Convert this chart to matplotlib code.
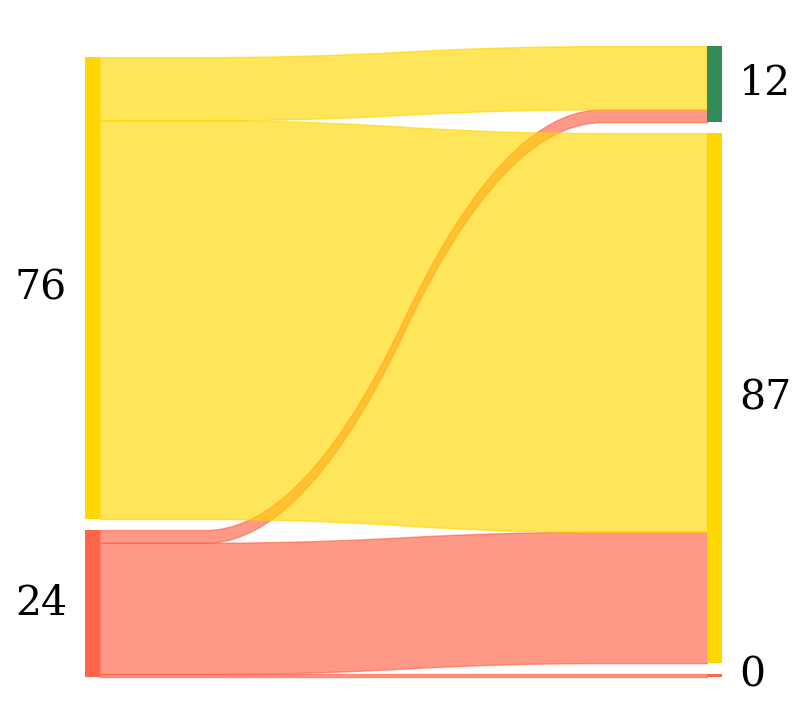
import numpy as np
import matplotlib
matplotlib.use("Agg")
import matplotlib.pyplot as plt

# ---- data ----
left_nodes = ["24", "76"]            # bottom -> top
right_nodes = ["0", "87", "12"]      # bottom -> top
left_colors = ["#FF6347", "#FFD700"]
right_colors = ["#FF6347", "#FFD700", "#2E8B57"]
# flow values [left][right]
flows = [
    [0.5, 21.6, 2.1],   # from 24
    [0.0, 65.6, 10.4],  # from 76
]

flows = np.array(flows)
left_tot = flows.sum(axis=1)
right_tot = flows.sum(axis=0)
total = flows.sum()
gap = 0.018 * total

fig = plt.figure(figsize=(8.06, 7.23), dpi=100)
ax = fig.add_axes([0, 0, 1, 1])
ax.axis("off")

xmax = 100.0
nw = 0.0247 * xmax

# node bottoms
lb, b = [], 0.0
for v in left_tot:
    lb.append(b)
    b += v + gap
rb, b = [], 0.0
for v in right_tot:
    rb.append(b)
    b += v + gap

# flows
lcur = list(lb)
rcur = list(rb)
for i in range(len(left_nodes)):
    for j in range(len(right_nodes)):
        v = flows[i, j]
        if v <= 0:
            continue
        yl0, yl1 = lcur[i], lcur[i] + v
        yr0, yr1 = rcur[j], rcur[j] + v
        lcur[i] += v
        rcur[j] += v
        yd = np.array(50 * [yl0] + 50 * [yr0])
        yu = np.array(50 * [yl1] + 50 * [yr1])
        k = 0.05 * np.ones(20)
        yd = np.convolve(np.convolve(yd, k, mode="valid"), k, mode="valid")
        yu = np.convolve(np.convolve(yu, k, mode="valid"), k, mode="valid")
        xs = np.linspace(0, xmax, len(yd))
        ax.fill_between(xs, yd, yu, color=left_colors[i], alpha=0.65)

# nodes + labels
for i, name in enumerate(left_nodes):
    ax.fill_between([-nw, 0], [lb[i]] * 2, [lb[i] + left_tot[i]] * 2,
                    color=left_colors[i], alpha=0.99, lw=0)
    ax.text(-0.054 * xmax, lb[i] + left_tot[i] / 2, f"{round(left_tot[i])}",
            ha="right", va="center", fontsize=29.5, family="DejaVu Serif")
for j, name in enumerate(right_nodes):
    h = max(right_tot[j], 0.0)
    ax.fill_between([xmax, xmax + nw], [rb[j]] * 2, [rb[j] + h] * 2,
                    color=right_colors[j], alpha=0.99, lw=0)
    ax.text(1.053 * xmax, rb[j] + h / 2, f"{round(right_tot[j])}",
            ha="left", va="center", fontsize=29.5, family="DejaVu Serif")

ax.set_xlim(-0.1647 * xmax, 1.1631 * xmax)
ax.set_ylim(-7.55, 111.4)

fig.savefig("out.png", dpi=100)
